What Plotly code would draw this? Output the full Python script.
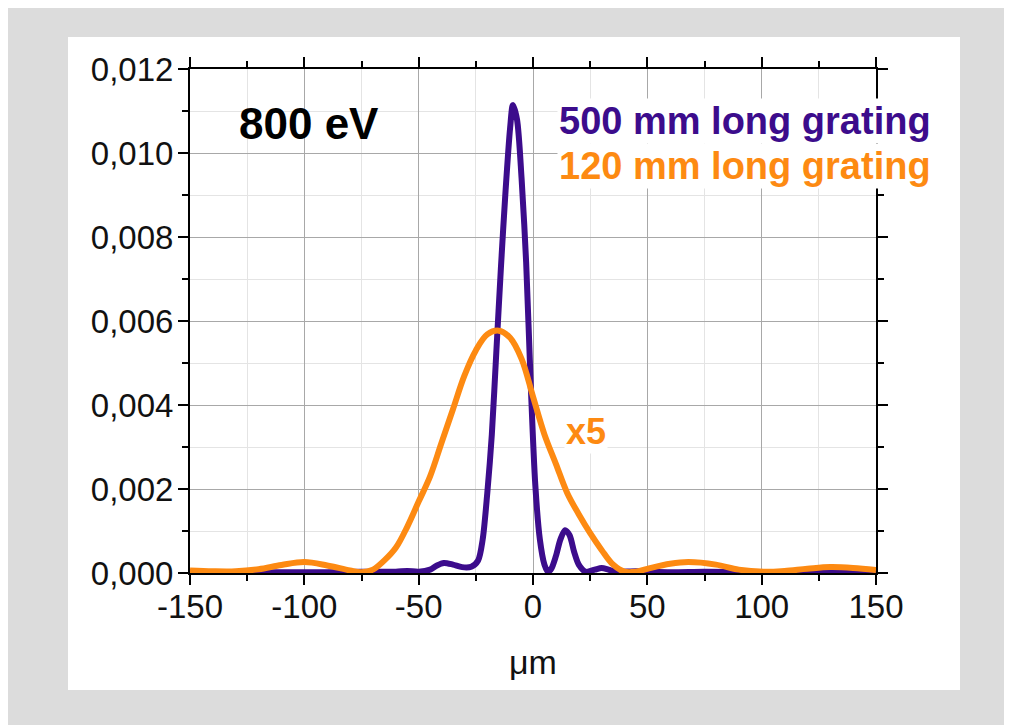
import plotly.graph_objects as go

# ---- data ----
x_500 = [-150, -130, -110, -90, -75, -60, -55, -50, -45, -42, -39, -35, -31, -27, -24, -22,
         -20, -18, -16, -14, -12, -10, -8.8, -7, -5, -3, -1, 1, 3, 5, 6.5, 8, 10, 12, 14,
         16, 18, 20, 23, 27, 30, 33, 36, 45, 60, 75, 100, 130, 150]
y_500 = [0.00002, 0.00002, 0.00002, 0.00002, 0.00003, 0.00003, 0.00005, 0.00003, 0.00008,
         0.00018, 0.00024, 0.00020, 0.00014, 0.00015, 0.00030, 0.00080,
         0.0019, 0.0033, 0.0053, 0.0073, 0.0091, 0.0106, 0.01114, 0.0108, 0.0094, 0.0074,
         0.0045, 0.0021, 0.0008, 0.0002, 0.00003, 0.0001, 0.0004, 0.0008, 0.00102,
         0.0009, 0.0005, 0.0002, 0.00003, 0.00008, 0.00012, 0.00008, 0.00003, 0.00004,
         0.00002, 0.00003, 0.00002, 0.00003, 0.00002]

x_120 = [-150, -140, -130, -120, -110, -100, -90, -80, -75, -70, -65, -60, -55, -50, -45,
         -40, -35, -30, -25, -20, -15, -10, -5, 0, 5, 10, 15, 20, 25, 30, 35, 40, 45,
         50, 60, 68, 80, 90, 102, 110, 120, 130, 140, 150]
y_120 = [0.00006, 0.00004, 0.00004, 0.00009, 0.00019, 0.00026, 0.00018, 0.00006, 0.00002,
         0.00008, 0.0003, 0.0006, 0.0011, 0.0017, 0.0023,
         0.0031, 0.0039, 0.0047, 0.0053, 0.00568, 0.00577, 0.0056, 0.0051, 0.0042,
         0.0033, 0.0026, 0.0019, 0.0014, 0.00095, 0.00055, 0.0002, 0.00003, 0.00003,
         0.0001, 0.00022, 0.00026, 0.0002, 0.00008, 0.00003, 0.00005, 0.0001,
         0.00014, 0.00012, 0.00007]

x_ticks = [-150, -100, -50, 0, 50, 100, 150]
x_tick_labels = ["-150", "-100", "-50", "0", "50", "100", "150"]
y_ticks = [0, 0.002, 0.004, 0.006, 0.008, 0.010, 0.012]

purple = "#3c0c8c"
orange = "#fd8a12"
font_fam = "Liberation Sans, Arial, sans-serif"

fig = go.Figure()
fig.add_trace(go.Scatter(x=x_500, y=y_500, mode="lines",
                         line=dict(color=purple, width=6, shape="spline", smoothing=0.8)))
fig.add_trace(go.Scatter(x=x_120, y=y_120, mode="lines",
                         line=dict(color=orange, width=6, shape="spline", smoothing=1.0)))

OFF = 8  # page body margin
W, H = 1012, 725
L, R, T, B = 190 - OFF, 876 - OFF, 69 - OFF, 573 - OFF
pw, ph = R - L, B - T

def px(xp):
    return (xp - OFF - L) / pw

def py(yp):
    return (B - (yp - OFF)) / ph

# white panel
fig.add_shape(type="rect", xref="paper", yref="paper", layer="below",
              x0=px(68), x1=px(960), y0=py(690), y1=py(37),
              fillcolor="white", line=dict(width=0))

axis_common = dict(showline=True, linecolor="black", linewidth=2, mirror="ticks",
                   ticks="outside", ticklen=10, tickwidth=2, tickcolor="black",
                   showgrid=True, gridcolor="#a8a8a8", gridwidth=1, zeroline=False,
                   tickfont=dict(family=font_fam, size=33, color="#111"))

fig.update_xaxes(range=[-150, 150], tickvals=x_ticks, ticktext=x_tick_labels,
                 minor=dict(dtick=25, tick0=0, ticks="outside", ticklen=6, tickwidth=2,
                            tickcolor="black", showgrid=True, gridcolor="#e4e4e4"),
                 ticklabelstandoff=-7, **axis_common)
fig.update_yaxes(range=[0, 0.012], tickvals=y_ticks, tickformat=".3f",
                 minor=dict(dtick=0.001, tick0=0, ticks="outside", ticklen=6, tickwidth=2,
                            tickcolor="black", showgrid=True, gridcolor="#e4e4e4"),
                 ticklabelstandoff=-2, **axis_common)

ann_font = dict(family=font_fam, size=38)
fig.add_annotation(xref="paper", yref="paper", x=px(237), y=py(124), xanchor="left",
                   yanchor="middle", showarrow=False, text="<b>800 eV</b>",
                   font=dict(family=font_fam, size=44, color="black"))
fig.add_annotation(xref="paper", yref="paper", x=px(557), y=py(121), xanchor="left",
                   yanchor="middle", showarrow=False, text="<b>500 mm long grating</b>",
                   font=dict(ann_font, color=purple), bgcolor="white")
fig.add_annotation(xref="paper", yref="paper", x=px(557), y=py(166), xanchor="left",
                   yanchor="middle", showarrow=False, text="<b>120 mm long grating</b>",
                   font=dict(ann_font, color=orange), bgcolor="white")
fig.add_annotation(xref="paper", yref="paper", x=px(564), y=py(431), xanchor="left",
                   yanchor="middle", showarrow=False, text="<b>x5</b>",
                   font=dict(family=font_fam, size=36, color=orange), bgcolor="white")
fig.add_annotation(xref="paper", yref="paper", x=0.5, y=py(662), xanchor="center",
                   yanchor="middle", showarrow=False, text="μm",
                   font=dict(family=font_fam, size=34, color="#111"))

fig.update_layout(width=W, height=H, margin=dict(l=L, r=W - R, t=T, b=H - B),
                  paper_bgcolor="#dcdcdc", plot_bgcolor="white", showlegend=False,
                  separators=",.")

fig.write_html("out.html")
